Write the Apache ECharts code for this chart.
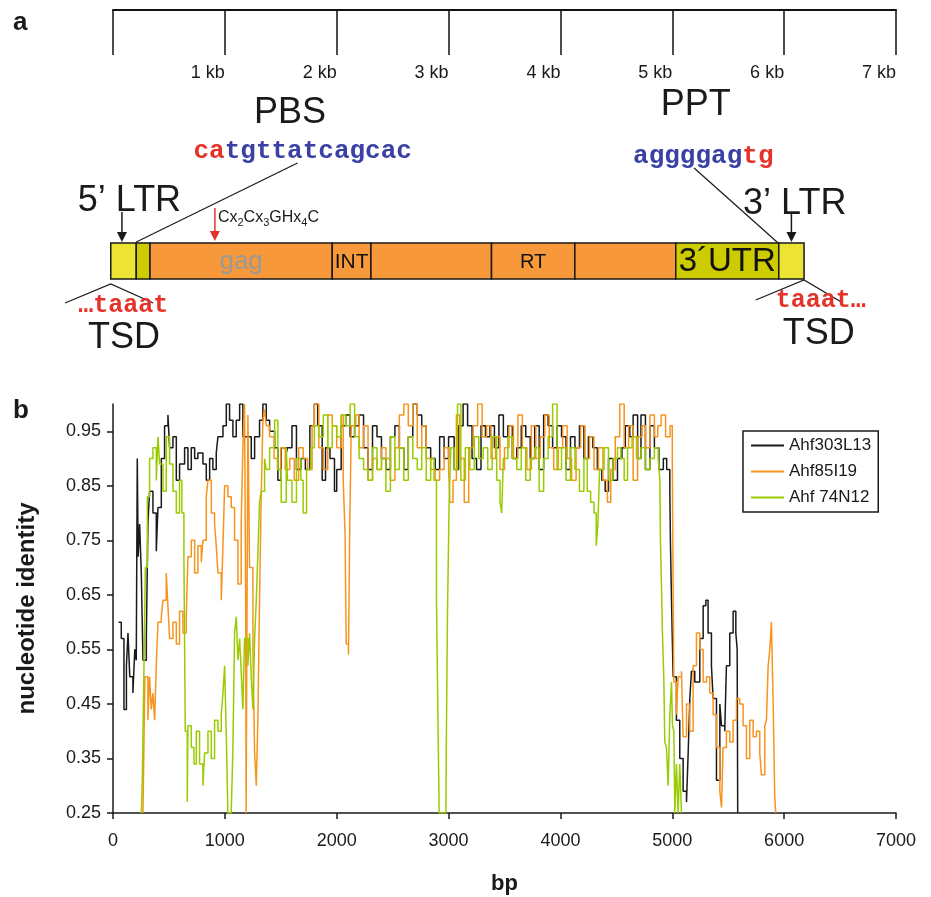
<!DOCTYPE html>
<html>
<head>
<meta charset="utf-8">
<script src="https://cdn.jsdelivr.net/npm/echarts@6/dist/echarts.min.js"></script>
<style>
html,body{margin:0;padding:0;background:#fff;}
#main{width:931px;height:897px;}
</style>
</head>
<body>
<div id="main"></div>
<script>
// ---------- Panel a: genome map (bp) ----------
const geneStart = [-20, 208, 331, 1960, 2306, 3384, 4129, 5031, 5952];
const geneEnd   = [208, 331, 1960, 2306, 3384, 4129, 5031, 5952, 6178];
const geneKind  = ['ltr', 'pbs', 'orf', 'orf', 'orf', 'orf', 'orf', 'utr', 'ltr'];
const geneLabel = ['', '', 'gag', 'INT', '', 'RT', '', '3\u00b4UTR', ''];
const scaleTicksKb = [0, 1, 2, 3, 4, 5, 6, 7];

// ---------- Panel b: nucleotide identity along the element ----------
const seriesNames = ['Ahf303L13', 'Ahf85I19', 'Ahf 74N12'];
const ahf303L13 = [[50,0.60],[74,0.57],[98,0.44],[120,0.52],[134,0.58],[150,0.50],[178,0.47],[195,0.55],[208,0.53],[217,0.90],[225,0.72],[238,0.78],[253,0.69],[268,0.53],[298,0.57],[312,0.78],[327,0.84],[357,0.80],[387,0.73],[402,0.81],[432,0.90],[461,0.96],[491,0.98],[506,0.92],[536,0.94],[566,0.86],[595,0.89],[640,0.92],[670,0.88],[700,0.92],[730,0.90],[759,0.91],[804,0.89],[834,0.86],[864,0.90],[893,0.88],[923,0.91],[938,0.94],[983,0.96],[1013,1.0],[1042,0.97],[1072,0.94],[1102,0.97],[1132,1.0],[1161,0.94],[1206,0.94],[1236,0.90],[1266,0.94],[1310,0.97],[1340,1.0],[1370,0.97],[1400,0.95],[1445,0.92],[1474,0.86],[1504,0.92],[1549,0.91],[1560,0.92],[1600,0.96],[1640,0.88],[1680,0.90],[1720,0.88],[1760,0.96],[1800,1.0],[1830,0.96],[1870,0.86],[1900,0.92],[1940,0.90],[1980,0.84],[2000,0.88],[2040,0.96],[2080,0.98],[2120,0.94],[2160,0.96],[2200,0.98],[2240,0.92],[2280,0.88],[2320,0.96],[2360,0.94],[2400,0.90],[2440,0.88],[2480,0.94],[2520,0.96],[2560,0.92],[2600,0.88],[2640,0.94],[2680,1.0],[2720,0.98],[2760,0.96],[2800,0.92],[2840,0.90],[2880,0.88],[2920,0.94],[2960,0.90],[3000,0.94],[3050,0.88],[3090,0.96],[3130,1.0],[3170,0.96],[3210,0.90],[3250,0.88],[3290,0.96],[3330,0.94],[3370,0.96],[3410,0.92],[3450,0.98],[3490,0.94],[3530,0.96],[3570,0.90],[3610,0.92],[3650,0.96],[3690,0.94],[3730,0.90],[3770,0.96],[3810,0.88],[3850,0.98],[3890,0.96],[3930,0.92],[3970,0.96],[4010,0.94],[4050,0.88],[4090,0.94],[4130,0.92],[4170,0.96],[4210,0.90],[4250,0.94],[4290,0.92],[4330,0.88],[4370,0.86],[4400,0.84],[4430,0.90],[4470,0.86],[4510,0.90],[4550,0.92],[4580,0.96],[4620,0.94],[4650,0.98],[4690,0.90],[4720,0.98],[4760,0.88],[4800,0.96],[4840,0.92],[4880,0.88],[4920,0.90],[4950,0.88],[4978,0.84],[4984,0.74],[4993,0.64],[4999,0.58],[5008,0.50],[5037,0.42],[5067,0.35],[5097,0.29],[5127,0.27],[5142,0.36],[5157,0.46],[5171,0.51],[5201,0.49],[5246,0.57],[5276,0.63],[5300,0.64],[5320,0.58],[5350,0.52],[5365,0.46],[5395,0.31],[5425,0.45],[5440,0.41],[5469,0.40],[5484,0.52],[5514,0.58],[5544,0.62],[5568,0.58],[5580,0.55],[5585,0.25]];
const ahf85I19 = [[268,0.25],[285,0.50],[298,0.50],[312,0.42],[327,0.50],[342,0.44],[357,0.47],[372,0.42],[387,0.52],[402,0.60],[432,0.61],[447,0.64],[476,0.69],[491,0.63],[506,0.57],[536,0.60],[566,0.56],[595,0.62],[625,0.58],[655,0.61],[670,0.72],[700,0.75],[730,0.69],[759,0.74],[789,0.71],[804,0.75],[834,0.83],[849,0.86],[879,0.80],[908,0.78],[923,0.74],[938,0.69],[968,0.64],[983,0.74],[998,0.85],[1027,0.83],[1057,0.81],[1087,0.75],[1117,0.67],[1146,0.78],[1161,0.92],[1176,1.0],[1186,0.64],[1190,0.25],[1200,0.25],[1206,0.98],[1221,0.70],[1251,0.55],[1266,0.36],[1281,0.30],[1296,0.43],[1310,0.64],[1325,0.83],[1340,0.97],[1355,0.99],[1370,0.96],[1400,0.94],[1440,0.90],[1470,0.88],[1500,0.92],[1540,0.88],[1580,0.90],[1620,0.86],[1660,0.92],[1700,0.90],[1740,0.88],[1780,0.96],[1800,1.0],[1840,0.92],[1880,0.88],[1920,0.98],[1960,0.96],[2000,0.92],[2040,0.98],[2058,0.86],[2075,0.76],[2085,0.56],[2105,0.54],[2118,0.80],[2130,0.96],[2170,0.98],[2200,0.92],[2240,0.96],[2280,0.86],[2320,0.90],[2360,0.88],[2400,0.92],[2440,0.90],[2480,0.86],[2520,0.92],[2560,0.98],[2600,1.0],[2640,0.96],[2680,1.0],[2720,0.92],[2760,0.96],[2800,0.90],[2840,0.88],[2880,0.86],[2920,0.88],[2960,0.92],[3000,0.88],[3012,0.82],[3040,0.86],[3070,0.98],[3100,0.90],[3140,0.82],[3180,0.92],[3220,0.96],[3260,1.0],[3300,0.94],[3340,0.96],[3380,0.90],[3420,0.94],[3460,0.88],[3500,0.92],[3540,0.96],[3580,0.90],[3620,0.98],[3660,0.92],[3700,0.88],[3740,0.96],[3780,0.90],[3820,0.94],[3860,0.98],[3900,0.92],[3940,0.88],[3980,0.92],[4020,0.96],[4060,0.90],[4100,0.86],[4140,0.92],[4180,0.96],[4220,0.90],[4260,0.94],[4300,0.88],[4340,0.92],[4380,0.86],[4420,0.82],[4450,0.88],[4490,0.94],[4530,1.0],[4570,0.92],[4610,0.96],[4650,0.86],[4690,0.94],[4730,0.96],[4760,0.92],[4800,0.98],[4840,0.94],[4870,0.96],[4900,0.98],[4940,0.94],[4980,0.96],[5000,0.90],[5008,0.64],[5014,0.49],[5037,0.43],[5052,0.50],[5082,0.51],[5097,0.39],[5127,0.45],[5157,0.40],[5186,0.52],[5216,0.58],[5246,0.55],[5276,0.49],[5306,0.50],[5335,0.47],[5365,0.43],[5395,0.37],[5425,0.29],[5440,0.26],[5454,0.37],[5484,0.40],[5514,0.38],[5544,0.42],[5574,0.46],[5603,0.45],[5633,0.41],[5663,0.35],[5693,0.42],[5723,0.39],[5752,0.40],[5782,0.36],[5797,0.32],[5827,0.41],[5842,0.42],[5857,0.52],[5872,0.55],[5886,0.60],[5901,0.46],[5916,0.28],[5925,0.25]];
const ahf74N12 = [[253,0.25],[262,0.31],[277,0.52],[289,0.70],[307,0.83],[327,0.90],[357,0.92],[387,0.86],[402,0.94],[417,0.89],[447,0.84],[476,0.94],[506,0.89],[536,0.84],[566,0.80],[595,0.86],[616,0.80],[634,0.72],[646,0.40],[664,0.27],[670,0.41],[700,0.37],[724,0.34],[745,0.40],[774,0.34],[804,0.30],[819,0.36],[849,0.40],[879,0.35],[908,0.42],[938,0.40],[968,0.43],[983,0.47],[998,0.52],[1013,0.39],[1027,0.25],[1057,0.25],[1072,0.37],[1087,0.58],[1102,0.61],[1117,0.53],[1132,0.57],[1146,0.51],[1161,0.44],[1176,0.57],[1206,0.52],[1221,0.58],[1236,0.50],[1251,0.44],[1266,0.57],[1281,0.64],[1296,0.73],[1310,0.82],[1325,0.84],[1355,0.90],[1370,0.88],[1400,0.92],[1445,0.97],[1474,0.88],[1504,0.82],[1549,0.92],[1560,0.86],[1600,0.82],[1640,0.90],[1680,0.86],[1700,0.80],[1730,0.88],[1770,0.92],[1800,0.96],[1840,0.94],[1880,0.98],[1920,0.92],[1960,0.96],[2000,0.94],[2040,0.98],[2080,0.96],[2120,1.0],[2160,0.94],[2200,0.90],[2240,0.88],[2280,0.86],[2320,0.92],[2360,0.88],[2400,0.90],[2440,0.84],[2480,0.94],[2520,0.88],[2560,0.92],[2600,0.86],[2640,0.94],[2680,0.90],[2720,0.88],[2760,0.92],[2800,0.86],[2840,0.90],[2870,0.86],[2892,0.64],[2907,0.39],[2916,0.25],[2976,0.25],[2980,0.38],[2990,0.61],[3005,0.82],[3020,0.92],[3050,0.88],[3080,1.0],[3110,0.86],[3150,0.92],[3190,0.88],[3230,0.94],[3270,0.90],[3310,0.92],[3350,0.88],[3390,0.94],[3430,0.86],[3460,0.82],[3475,0.80],[3490,0.90],[3530,0.94],[3570,0.90],[3610,0.88],[3650,0.92],[3690,0.86],[3730,0.90],[3770,0.92],[3810,0.84],[3850,0.90],[3890,0.94],[3930,1.0],[3970,0.88],[4010,0.92],[4050,0.86],[4090,0.92],[4130,0.88],[4170,0.84],[4210,0.90],[4240,0.84],[4270,0.82],[4300,0.80],[4320,0.74],[4335,0.78],[4350,0.88],[4390,0.92],[4430,0.86],[4470,0.90],[4510,0.92],[4540,0.90],[4570,0.86],[4600,0.92],[4640,0.94],[4680,0.90],[4720,0.92],[4760,0.88],[4800,0.90],[4840,0.92],[4874,0.90],[4889,0.86],[4894,0.75],[4903,0.67],[4912,0.58],[4924,0.50],[4933,0.38],[4948,0.37],[4963,0.30],[4978,0.43],[4993,0.49],[5002,0.41],[5014,0.40],[5023,0.25],[5037,0.34],[5052,0.25],[5067,0.34],[5082,0.25]];
const yTickValues = [0.25, 0.35, 0.45, 0.55, 0.65, 0.75, 0.85, 0.95];

// ---------- styles ----------
const SANS = '"Liberation Sans", Arial, sans-serif';
const MONO = '"Liberation Mono", "Courier New", monospace';
const RED = '#e5332a', BLUE = '#3a40a4';
const fillFor = {ltr: '#ece334', pbs: '#cccc00', orf: '#f7993a', utr: '#cccc00'};
const labelStyle = {
  'gag':   {font: '26px ' + SANS, fill: '#999999'},
  'INT':   {font: '21px ' + SANS, fill: '#111'},
  'RT':    {font: '20px ' + SANS, fill: '#111'},
  '3\u00b4UTR': {font: '33px ' + SANS, fill: '#111'}
};
const BOX_TOP = 243, BOX_H = 36;

const chart = echarts.init(document.getElementById('main'), null, {renderer: 'canvas'});

function renderGene(params, api) {
  const i = params.dataIndex;
  const x0 = api.coord([api.value(0), 0])[0];
  const x1 = api.coord([api.value(1), 0])[0];
  const children = [{
    type: 'rect',
    shape: {x: x0, y: BOX_TOP, width: x1 - x0, height: BOX_H},
    style: {fill: fillFor[geneKind[i]], stroke: '#1a1a1a', lineWidth: 1.5}
  }];
  const lab = geneLabel[i];
  if (lab) {
    children.push({
      type: 'text',
      style: {text: lab, x: (x0 + x1) / 2, y: BOX_TOP + BOX_H / 2 + 1, align: 'center', verticalAlign: 'middle',
              font: labelStyle[lab].font, fill: labelStyle[lab].fill}
    });
  }
  return {type: 'group', children: children};
}

function arrow(x, y0, y1, color) {
  return [
    {type: 'line', shape: {x1: x, y1: y0, x2: x, y2: y1 - 8}, style: {stroke: color, lineWidth: 1.5}},
    {type: 'polygon', shape: {points: [[x - 5, y1 - 10], [x + 5, y1 - 10], [x, y1]]}, style: {fill: color}}
  ];
}

function renderAnnot(params, api) {
  const X = bp => api.coord([bp, 0])[0];
  const big = '36px ' + SANS;
  const c = [];
  const txt = (t, x, y, font, fill, align, rich) => c.push({type: 'text',
    style: {text: t, x: x, y: y, align: align || 'center', verticalAlign: 'middle', font: font, fill: fill || '#1a1a1a', rich: rich}});
  txt('PBS', X(1582), 113, big);
  txt('PPT', X(5210), 105, big);
  const seqRich = {r: {fill: RED, font: 'bold 26px ' + MONO}, b: {fill: BLUE, font: 'bold 26px ' + MONO}};
  txt('{r|ca}{b|tgttatcagcac}', X(1696), 151, 'bold 26px ' + MONO, RED, 'center', seqRich);
  txt('{b|aggggag}{r|tg}', X(5277), 156, 'bold 26px ' + MONO, BLUE, 'center', seqRich);
  c.push({type: 'line', shape: {x1: X(208), y1: 242, x2: X(1650), y2: 163}, style: {stroke: '#1a1a1a', lineWidth: 1.2}});
  c.push({type: 'line', shape: {x1: X(5195), y1: 168, x2: X(5946), y2: 243}, style: {stroke: '#1a1a1a', lineWidth: 1.2}});
  txt('5\u2019 LTR', X(147), 201, big);
  txt('3\u2019 LTR', X(6095), 204, big);
  arrow(X(80), 212, 242, '#1a1a1a').forEach(e => c.push(e));
  arrow(X(6065), 213, 242, '#1a1a1a').forEach(e => c.push(e));
  arrow(X(911), 208, 241, RED).forEach(e => c.push(e));
  txt('{m|Cx}{s|2}{m|Cx}{s|3}{m|GHx}{s|4}{m|C}', X(938), 218, '16px ' + SANS, '#1a1a1a', 'left',
      {m: {font: '16px ' + SANS, fill: '#1a1a1a'}, s: {font: '11px ' + SANS, fill: '#1a1a1a', padding: [9, 0, 0, 0]}});
  c.push({type: 'polyline', shape: {points: [[X(-429), 303], [X(-20), 284], [X(360), 303]]}, style: {stroke: '#1a1a1a', lineWidth: 1.2, fill: null}});
  c.push({type: 'polyline', shape: {points: [[X(5746), 300], [X(6178), 280], [X(6526), 303]]}, style: {stroke: '#1a1a1a', lineWidth: 1.2, fill: null}});
  txt('\u2026taaat', X(92), 306, 'bold 25px ' + MONO, RED);
  txt('taaat\u2026', X(6327), 301, 'bold 25px ' + MONO, RED);
  txt('TSD', X(98), 338, big);
  txt('TSD', X(6309), 334, big);
  return {type: 'group', children: c};
}

const lineColors = ['#1a1a1a', '#f7941d', '#99cc00'];
const lineData = [ahf303L13, ahf85I19, ahf74N12];

const option = {
  animation: false,
  backgroundColor: '#fff',
  textStyle: {fontFamily: SANS},
  graphic: [
    {type: 'text', left: 13, top: 10, style: {text: 'a', font: 'bold 26px ' + SANS, fill: '#1a1a1a'}},
    {type: 'text', left: 13, top: 398, style: {text: 'b', font: 'bold 26px ' + SANS, fill: '#1a1a1a'}}
  ],
  grid: [
    {left: 113, right: 35, top: 10, height: 45},
    {left: 113, right: 35, top: 404, bottom: 84}
  ],
  xAxis: [
    {gridIndex: 0, type: 'value', position: 'top', min: 0, max: 7000, interval: 1000,
     axisLine: {show: true, onZero: false, lineStyle: {color: '#111', width: 2}},
     axisTick: {show: true, inside: true, length: 45, lineStyle: {color: '#111', width: 1.5}},
     axisLabel: {inside: true, margin: 54, align: 'right', fontSize: 18, color: '#1a1a1a', fontFamily: SANS,
                 formatter: v => (v === 0 ? '' : scaleTicksKb[v / 1000] + ' kb')},
     splitLine: {show: false}},
    {gridIndex: 1, type: 'value', min: 0, max: 7000, interval: 1000,
     name: 'bp', nameLocation: 'middle', nameGap: 60,
     nameTextStyle: {fontSize: 22, fontWeight: 'bold', color: '#1a1a1a', fontFamily: SANS},
     axisLine: {show: true, onZero: false, lineStyle: {color: '#1a1a1a', width: 1.5}},
     axisTick: {show: true, length: 6, lineStyle: {color: '#1a1a1a', width: 1.5}},
     axisLabel: {fontSize: 18, color: '#1a1a1a', margin: 19, fontFamily: SANS, formatter: v => String(v)},
     splitLine: {show: false}}
  ],
  yAxis: [
    {gridIndex: 0, type: 'value', min: 0, max: 1, show: false},
    {gridIndex: 1, type: 'value', min: 0.25, max: 1.0, interval: 0.1,
     name: 'nucleotide identity', nameLocation: 'middle', nameGap: 74,
     nameTextStyle: {fontSize: 24, fontWeight: 'bold', color: '#1a1a1a', fontFamily: SANS},
     axisLine: {show: true, lineStyle: {color: '#1a1a1a', width: 1.5}},
     axisTick: {show: true, length: 6, customValues: yTickValues, lineStyle: {color: '#1a1a1a', width: 1.5}},
     axisLabel: {fontSize: 18, color: '#1a1a1a', margin: 12, customValues: yTickValues, fontFamily: SANS,
                 formatter: v => v.toFixed(2)},
     splitLine: {show: false}}
  ],
  legend: {
    data: seriesNames, orient: 'vertical', left: 743, top: 431,
    itemWidth: 33, itemHeight: 14, itemGap: 9,
    padding: [6, 7, 6, 7],
    borderColor: '#1a1a1a', borderWidth: 1.5, borderRadius: 0, backgroundColor: '#fff',
    itemStyle: {opacity: 0},
    textStyle: {fontSize: 17, color: '#1a1a1a', fontFamily: SANS}
  },
  series: [
    {type: 'custom', name: 'gene', xAxisIndex: 0, yAxisIndex: 0, silent: true, clip: false,
     renderItem: renderGene,
     data: geneStart.map((s, i) => [s, geneEnd[i]])},
    {type: 'custom', name: 'annot', xAxisIndex: 0, yAxisIndex: 0, silent: true, clip: false,
     renderItem: renderAnnot, data: [[0, 0]]}
  ].concat(seriesNames.map((n, k) => ({
    type: 'line', name: n, xAxisIndex: 1, yAxisIndex: 1, data: lineData[k],
    step: 'end', symbol: 'none', showSymbol: false, silent: true,
    lineStyle: {color: lineColors[k], width: 1.5}, itemStyle: {color: lineColors[k]}
  })))
};
chart.setOption(option);
</script>
</body>
</html>
